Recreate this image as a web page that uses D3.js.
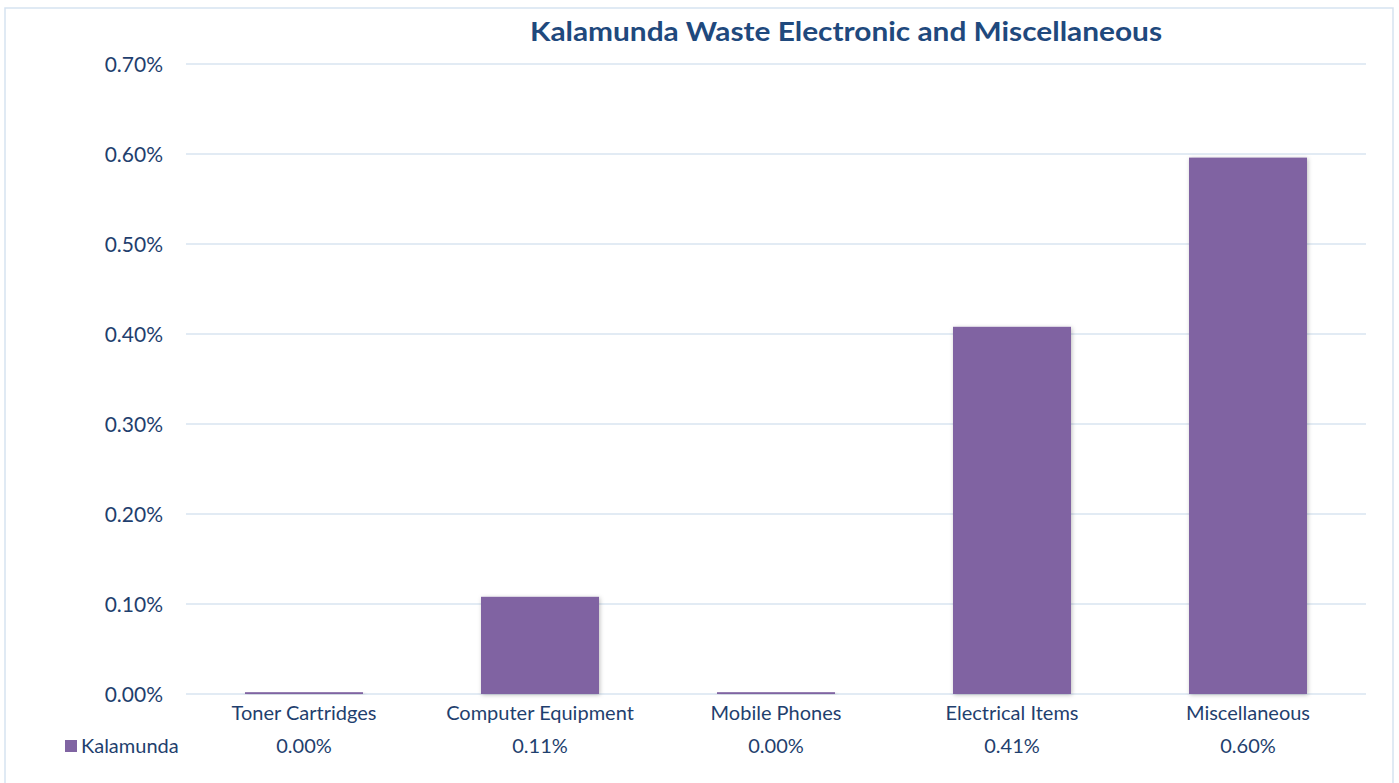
<!DOCTYPE html>
<html><head><meta charset="utf-8">
<script src="https://cdn.jsdelivr.net/npm/d3@7/dist/d3.min.js"></script>
<style>body{margin:0;background:#fff;} svg{display:block;}</style>
</head><body>
<svg id="c" width="1399" height="783"></svg>
<script>
const title = "Kalamunda Waste Electronic and Miscellaneous";
const categories = ["Toner Cartridges","Computer Equipment","Mobile Phones","Electrical Items","Miscellaneous"];
const seriesName = "Kalamunda";
const values = [0.002, 0.108, 0.002, 0.408, 0.596]; // percent
const yTicks = [0,0.1,0.2,0.3,0.4,0.5,0.6,0.7];

const svg = d3.select("#c");
const m = {left:186, right:1366, top:64, bottom:694};
const textCol = "#1F3F6E";
const font = "Lato, 'Open Sans', sans-serif";

const defs = svg.append("defs");
const f = defs.append("filter").attr("id","sh").attr("x","-10%").attr("y","-10%").attr("width","130%").attr("height","130%");
f.append("feDropShadow").attr("dx",1).attr("dy",1).attr("stdDeviation",2).attr("flood-color","#000").attr("flood-opacity",0.25);

svg.append("rect").attr("x",5).attr("y",8).attr("width",1388).attr("height",790)
  .attr("fill","#fff").attr("stroke","#D6E3F1").attr("stroke-width",1.5);

const x = d3.scaleBand().domain(categories).range([m.left,m.right]).paddingInner(0.5).paddingOuter(0.25);
const y = d3.scaleLinear().domain([0,0.7]).range([m.bottom,m.top]);

svg.append("g").selectAll("line").data(yTicks).join("line")
  .attr("x1",m.left).attr("x2",m.right).attr("y1",d=>y(d)).attr("y2",d=>y(d))
  .attr("stroke","#D9E4F1").attr("stroke-width",1.5);

const yAxis = d3.axisLeft(y).tickValues(yTicks).tickFormat(d=>d.toFixed(2)+"%").tickSize(0).tickPadding(23);
const ga = svg.append("g").attr("transform",`translate(${m.left},0)`).call(yAxis);
ga.select(".domain").remove();
ga.selectAll("text").attr("font-family",font).attr("font-size",21).attr("fill",textCol).attr("dy","0.36em");

svg.append("g").selectAll("rect").data(values).join("rect")
  .attr("x",(d,i)=>x(categories[i])).attr("width",x.bandwidth())
  .attr("y",d=>y(d)).attr("height",d=>y(0)-y(d))
  .attr("fill","#8064A2").attr("filter","url(#sh)");

const xAxis = d3.axisBottom(x).tickSize(0).tickPadding(10);
const gx = svg.append("g").attr("transform",`translate(0,${m.bottom})`).call(xAxis);
gx.select(".domain").remove();
gx.selectAll("text").attr("font-family",font).attr("font-size",20).attr("fill",textCol).attr("dy","0.78em");

svg.append("g").selectAll("text").data(values).join("text")
  .attr("x",(d,i)=>x(categories[i])+x.bandwidth()/2).attr("y",753)
  .attr("text-anchor","middle").attr("font-family",font).attr("font-size",20).attr("fill",textCol)
  .text(d=>d.toFixed(2)+"%");

svg.append("rect").attr("x",65).attr("y",740).attr("width",12).attr("height",12).attr("fill","#8064A2");
svg.append("text").attr("x",81).attr("y",753).attr("font-family",font).attr("font-size",20).attr("fill",textCol).text(seriesName);

svg.append("text").attr("x",846).attr("y",41).attr("text-anchor","middle")
  .attr("font-family",font).attr("font-weight","bold").attr("font-size",26).attr("fill","#1F497D")
  .attr("textLength",632).attr("lengthAdjust","spacingAndGlyphs").text(title);
</script>
</body></html>
